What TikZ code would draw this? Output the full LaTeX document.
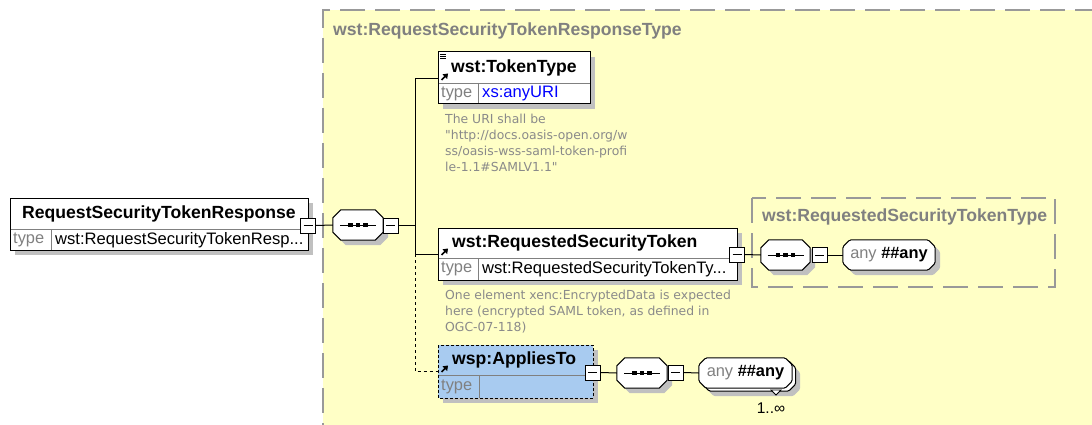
\documentclass[tikz,border=0pt]{standalone}
\usepackage{fontspec}
\setmainfont{Liberation Sans}
\newfontfamily\notefont{DejaVu Sans}
\usetikzlibrary{calc,arrows.meta}
\definecolor{ybg}{HTML}{FFFFC6}
\definecolor{dgray}{HTML}{999999}
\definecolor{tgray}{HTML}{808080}
\definecolor{ngray}{HTML}{8A8A8A}
\definecolor{shd}{HTML}{C0C0C0}
\definecolor{ablue}{HTML}{A8CBF0}
\definecolor{vblue}{HTML}{0000FF}
% octagon round a named node: name, chamfer, dx, dy
\newcommand\octpath[4]{($(#1.north west)+(#2+#3,#4)$) -- ($(#1.north east)+(-#2+#3,#4)$) -- ($(#1.north east)+(#3,#2+#4)$) -- ($(#1.south east)+(#3,-#2+#4)$) -- ($(#1.south east)+(-#2+#3,#4)$) -- ($(#1.south west)+(#2+#3,#4)$) -- ($(#1.south west)+(#3,-#2+#4)$) -- ($(#1.north west)+(#3,#2+#4)$) -- cycle}
\newcommand\seqdraw[1]{%
  \fill[shd] \octpath{#1}{8}{5}{5};
  \filldraw[fill=white,draw=black,line width=1pt] \octpath{#1}{8}{0}{0};
  \draw[line width=1pt] ($(#1.center)+(-18,0)$) -- ($(#1.center)+(18,0)$);
  \foreach \dx in {-7.5,0,7.5}{\fill ($(#1.center)+(\dx-2.3,-2.3)$) rectangle ($(#1.center)+(\dx+2.3,2.3)$);}%
}
\newcommand\anydraw[1]{%
  \fill[shd,rounded corners=1.5pt] \octpath{#1}{7}{5}{5};
  \filldraw[fill=white,draw=black,line width=1pt,rounded corners=1.5pt] \octpath{#1}{7}{0}{0};
}
% reference arrow icon whose tip is at (#1,#2)
\newcommand\refarrow[2]{%
  \draw[line width=1.6pt] (#1-6.5,#2+6.5) -- (#1-2,#2+2);
  \fill (#1,#2) -- (#1-5.5,#2+0.8) -- (#1-0.8,#2+5.5) -- cycle;
}
\tikzset{
  elembox/.style={rectangle,draw=black,line width=1pt,fill=white,inner sep=0pt},
  divider/.style={draw=tgray,line width=0.8pt},
  titletext/.style={anchor=west,inner sep=0pt,font=\fontsize{17.6}{20}\selectfont\bfseries},
  typelbl/.style={anchor=west,inner sep=0pt,text=tgray,font=\fontsize{16.4}{19}\selectfont},
  typeval/.style={anchor=west,inner sep=0pt,font=\fontsize{16.6}{19}\selectfont},
  grouptitle/.style={anchor=west,inner sep=0pt,text=tgray,font=\fontsize{17.6}{20}\selectfont\bfseries},
  notetext/.style={anchor=north west,inner sep=0pt,text=ngray,align=left,font=\notefont\fontsize{12.4}{16}\selectfont},
  minusbox/.style={rectangle,draw=black,line width=1pt,fill=white,minimum size=15pt,inner sep=0pt,
    path picture={\draw[line width=1pt] ([xshift=3pt]path picture bounding box.west) -- ([xshift=-3pt]path picture bounding box.east);}},
  seqnode/.style={rectangle,draw=none,minimum width=50pt,minimum height=30pt,inner sep=0pt},
  anynode/.style={rectangle,draw=none,minimum height=30pt,inner sep=0pt},
  anytext/.style={inner sep=0pt,font=\fontsize{16.4}{19}\selectfont},
  conn/.style={draw=black,line width=1pt},
  dconn/.style={draw=black,line width=1pt,dash pattern=on 3pt off 3pt},
}
\begin{document}
\begin{tikzpicture}[x=1pt,y=-1pt]
\useasboundingbox (0,0) rectangle (1092,425);
% complex type area
\fill[ybg] (323,10) rectangle (1100,430);
\draw[dgray,line width=1.3pt,dash pattern=on 25pt off 10pt] (1100,10) -- (323,10) -- (323,430);
\node[grouptitle] (ct1) at (333,31) {wst:RequestSecurityTokenResponseType};

% root element
\fill[shd] (15,203) rectangle (313,255);
\node[elembox,minimum width=298pt,minimum height=52pt] (root) at (159,224) {};
\draw[divider] (10.5,229) -- (307.5,229) (51,229) -- (51,249.5);
\node[titletext] (rootname) at (22,213.5) {RequestSecurityTokenResponse};
\node[typelbl] (roottl) at (13,240) {type};
\node[typeval] (roottv) at (55,240) {wst:RequestSecurityTokenResp...};
\node[minusbox] (rootm) at (308,225.5) {};

% sequence 1
\node[seqnode] (s1) at (358,225) {};
\seqdraw{s1}
\node[minusbox] (s1m) at (390.5,225.5) {};
\coordinate (trunk) at (415,225.5);

% TokenType
\fill[shd] (443,57) rectangle (595,109);
\node[elembox,minimum width=152pt,minimum height=52pt] (tt) at (514,78) {};
\draw[divider] (438.5,83) -- (589.5,83) (478,83) -- (478,103.5);
\draw[line width=0.9pt] (440,54) -- (446,54) (440,56.2) -- (446,56.2) (440,58.4) -- (446,58.4);
\refarrow{448}{73.5}
\node[titletext] (ttname) at (451,68) {wst:TokenType};
\node[typelbl] (tttl) at (441,93.5) {type};
\node[typeval,text=vblue] (ttv) at (482,93.5) {xs:anyURI};
\node[notetext] (note1) at (445,114) {The URI shall be\\"http://docs.oasis-open.org/w\\ss/oasis-wss-saml-token-profi\\le-1.1\#SAMLV1.1"};

% RequestedSecurityToken
\fill[shd] (443,233) rectangle (742,285);
\node[elembox,minimum width=299pt,minimum height=52pt] (rst) at (587.5,254) {};
\draw[divider] (438.5,258) -- (736.5,258) (478,258) -- (478,279.5);
\refarrow{448}{248.5}
\node[titletext] (rstname) at (452,243) {wst:RequestedSecurityToken};
\node[typelbl] (rsttl) at (441,269) {type};
\node[typeval] (rsttv) at (482,269) {wst:RequestedSecurityTokenTy...};
\node[minusbox] (rstm) at (737,254.5) {};
\node[notetext] (note2) at (445,290) {One element xenc:EncryptedData is expected\\here (encrypted SAML token, as defined in\\OGC-07-118)};

% inner complex type
\draw[dgray,line width=1.3pt,dash pattern=on 25pt off 10pt] (752,198) rectangle (1055,287);
\node[grouptitle] (ct2) at (762,217) {wst:RequestedSecurityTokenType};
\node[seqnode,minimum width=49pt] (s2) at (785.5,255) {};
\seqdraw{s2}
\node[minusbox] (s2m) at (819.5,255) {};
\node[anynode,minimum width=92pt] (any1) at (889,255) {};
\anydraw{any1}
\node[anytext] (any1t) at (any1.center) {\textcolor{tgray}{any} \textbf{\#\#any}};

% AppliesTo
\fill[shd] (443,350) rectangle (598,403);
\node[elembox,fill=ablue,draw=none,minimum width=155pt,minimum height=53pt] (at) at (515.5,371.5) {};
\draw[line width=1pt,dash pattern=on 3pt off 2pt] (438,345) rectangle (593,398);
\draw[divider] (438.5,375) -- (592.5,375) (479,375) -- (479,397.5);
\refarrow{448}{365.5}
\node[titletext] (atname) at (452,360) {wsp:AppliesTo};
\node[typelbl] (attl) at (441,386.5) {type};
\node[minusbox] (atm) at (592.5,372.5) {};
\node[seqnode] (s3) at (642,373) {};
\seqdraw{s3}
\node[minusbox] (s3m) at (675.5,372.5) {};
\node[anynode,minimum width=93pt] (any2) at (745.5,373) {};
\fill[shd,rounded corners=1.5pt] \octpath{any2}{7}{8}{8};
\filldraw[fill=white,draw=black,line width=1pt,rounded corners=1.5pt] \octpath{any2}{7}{3.5}{3};
\filldraw[fill=white,draw=black,line width=1pt,rounded corners=1.5pt] \octpath{any2}{7}{0}{0};
\node[anytext] (any2t) at (any2.center) {\textcolor{tgray}{any} \textbf{\#\#any}};
\draw[line width=0.8pt,fill=white] (771,390) -- (781,390) -- (776,395) -- cycle;
\node[anchor=center,inner sep=0pt,font=\fontsize{15.5}{18}\selectfont] (mult) at (771,408) {1..∞};

% connectors
\draw[conn] (rootm.east) -- (s1.west);
\draw[conn] (s1m.east) -- (trunk);
\draw[conn] (trunk) |- ([yshift=-1pt]tt.west);
\draw[conn] (trunk) |- (rst.west);
\draw[dconn] (rst.west -| trunk) |- (at.west);
\draw[conn] (rstm.east) -- (s2.west);
\draw[conn] (s2m.east) -- (any1.west);
\draw[conn] (atm.east) -- (s3.west);
\draw[conn] (s3m.east) -- (any2.west);
\end{tikzpicture}
\end{document}
